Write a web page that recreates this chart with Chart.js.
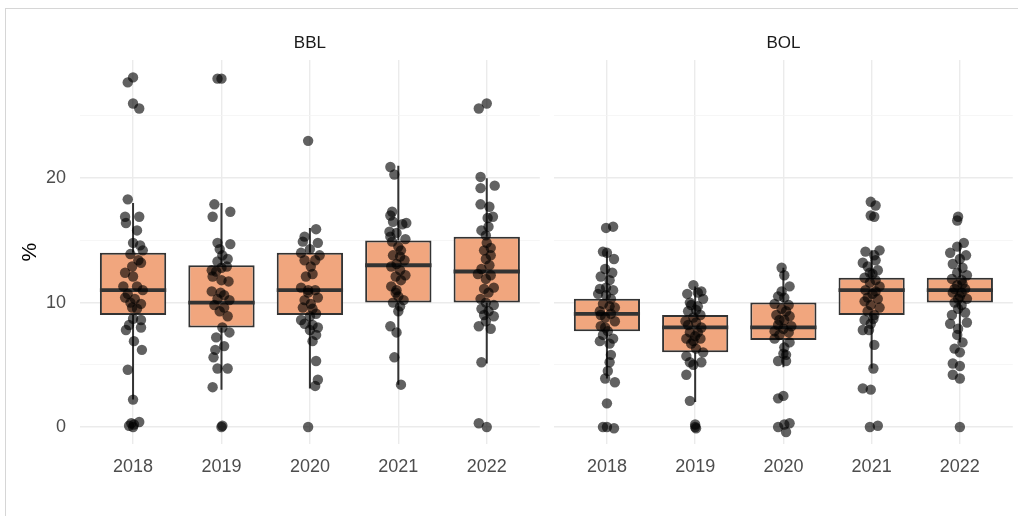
<!DOCTYPE html>
<html>
<head>
<meta charset="utf-8">
<script src="https://cdn.jsdelivr.net/npm/chart.js@4.4.1/dist/chart.umd.min.js"></script>
<style>
  body { margin: 0; background: #fff; }
  #wrap { position: relative; width: 1018px; height: 516px; overflow: hidden; }
  #frame { position: absolute; left: 5px; top: 8px; width: 1040px; height: 540px; border: 1px solid #d6d6d6; box-sizing: border-box; }
  canvas { position: absolute; top: 0; }
  #c1 { left: 0; }
  #c2 { left: 545px; }
</style>
</head>
<body>
<div id="wrap">
  <div id="frame"></div>
  <canvas id="c1" width="545" height="516"></canvas>
  <canvas id="c2" width="473" height="516"></canvas>
</div>
<script>
// categories and facets
const years = ['2018', '2019', '2020', '2021', '2022'];
const panels = ['BBL', 'BOL'];
const yTicks = [0, 5, 10, 15, 20, 25];

// box stats
const bblQ1 = [9, 8, 9, 10, 10];
const bblMed = [11, 10, 11, 13, 12.5];
const bblQ3 = [14, 13, 14, 15, 15.3];
const bblLo = [2.2, 3.0, 3.1, 3.4, 5.1];
const bblHi = [18.0, 18.0, 16.0, 21.0, 20.0];

const bolQ1 = [7.7, 6, 7, 9, 10];
const bolMed = [9.1, 8, 8, 11, 11];
const bolQ3 = [10.3, 9, 10, 12, 12];
const bolLo = [3.9, 2.0, 4.8, 4.7, 6.8];
const bolHi = [14.1, 11.3, 12.8, 14.2, 14.8];

// jittered points: [offset from category (category units), %]
const bbl2018 = [[0,28.1],[-0.06,27.7],[0,26.0],[0.07,25.6],[-0.06,18.3],[-0.09,16.9],[0.07,16.9],[-0.08,16.4],[0.045,15.8],[0,14.8],[0.08,14.6],[0.11,14.2],[-0.03,13.9],[0.06,13.4],[0.09,13.2],[-0.01,12.9],[-0.09,12.4],[0,12.1],[-0.11,11.3],[0.045,11.3],[0.11,11.0],[-0.06,10.7],[-0.09,10.4],[0.02,10.3],[-0.03,10.0],[0.09,9.9],[-0.01,9.6],[0.045,9.5],[0,8.7],[0.09,8.6],[-0.045,8.2],[0.09,8.0],[-0.08,7.8],[0.01,6.9],[0.10,6.2],[-0.06,4.6],[0,2.2],[-0.02,0.3],[0.01,0.2],[0.07,0.4],[-0.045,0.1],[0,0.0]];
const bbl2019 = [[-0.045,28.0],[0,28.0],[-0.08,17.9],[0.10,17.3],[-0.10,16.9],[-0.045,14.8],[0.10,14.7],[-0.02,14.3],[0.01,13.8],[0.07,13.5],[-0.045,13.3],[0.06,12.9],[0,12.8],[-0.06,12.5],[-0.11,12.6],[-0.10,12.1],[0.08,11.7],[0,11.8],[-0.11,10.9],[-0.01,10.8],[0.03,10.6],[-0.045,10.3],[0.09,10.2],[-0.08,9.8],[0.03,9.6],[-0.02,9.3],[0.07,8.9],[0.01,8.0],[0.09,7.6],[-0.06,7.2],[0.03,6.5],[-0.07,6.2],[-0.09,5.6],[-0.045,4.7],[0.07,4.7],[-0.10,3.2],[0,0.0],[0.01,0.1]];
const bbl2020 = [[-0.02,23.0],[0.07,15.9],[-0.06,15.3],[0.09,14.8],[-0.08,14.9],[0,14.3],[-0.10,14.0],[0.11,13.8],[0.06,13.4],[-0.06,13.4],[0.01,12.9],[-0.045,12.1],[0.03,12.3],[-0.10,11.2],[-0.02,11.0],[0.06,11.0],[-0.02,10.8],[0.09,10.4],[-0.06,10.2],[0.01,9.9],[-0.08,9.6],[0.03,9.5],[0.07,9.1],[0,8.9],[-0.10,8.6],[-0.06,8.3],[0.03,8.2],[0.09,8.0],[0,7.8],[0.07,7.4],[0.03,6.9],[0.07,5.3],[0.09,3.8],[0.06,3.3],[-0.02,0.0]];
const bbl2021 = [[-0.09,20.9],[-0.045,20.3],[-0.07,17.3],[-0.09,17.0],[-0.06,16.5],[0.09,16.4],[0.045,16.3],[-0.10,15.7],[-0.09,15.3],[-0.02,15.6],[0.08,15.1],[-0.07,14.9],[0,14.5],[0.03,14.2],[-0.06,13.8],[0.02,13.7],[0.07,13.4],[-0.02,13.1],[-0.08,12.9],[0.02,12.6],[0.08,12.2],[-0.03,12.1],[0.03,11.8],[-0.08,11.3],[-0.02,11.0],[-0.03,10.8],[0,10.5],[0.06,10.2],[-0.06,10.0],[0.02,9.7],[0,9.3],[-0.09,8.1],[-0.02,7.6],[-0.045,5.6],[0.03,3.4]];
const bbl2022 = [[-0.09,25.6],[0,26.0],[-0.07,20.1],[-0.07,19.2],[0.09,19.4],[-0.07,17.9],[0.03,17.7],[0.07,16.9],[0.01,16.8],[-0.06,15.8],[0.02,16.1],[-0.01,15.4],[0,14.8],[-0.03,14.2],[0.045,14.4],[0.045,13.8],[-0.01,13.5],[0.03,13.0],[-0.06,12.7],[-0.10,12.3],[0.045,12.2],[-0.01,11.9],[0.08,11.2],[-0.03,11.1],[0.02,10.8],[-0.07,10.3],[-0.01,10.0],[0.08,9.8],[-0.06,9.5],[0.02,9.3],[-0.03,9.0],[0.08,8.9],[-0.01,8.5],[-0.09,8.1],[0.045,7.9],[-0.06,5.2],[-0.09,0.3],[0,0.0]];

const bol2018 = [[0.07,16.1],[-0.01,16.0],[-0.045,14.1],[0,14.0],[0.08,13.5],[-0.02,12.7],[0.06,12.4],[-0.07,12.1],[0.03,11.8],[-0.01,11.2],[-0.08,11.1],[0.07,11.0],[-0.10,10.7],[-0.01,10.6],[0.045,10.3],[-0.045,9.9],[0.03,9.7],[0.09,9.6],[-0.08,9.3],[0.045,9.1],[-0.07,9.0],[-0.02,8.8],[0.09,8.5],[-0.07,8.1],[-0.02,8.0],[0.01,7.7],[-0.045,7.4],[0.07,7.1],[-0.08,6.9],[0.03,6.7],[0.045,5.8],[0.03,5.2],[0.01,4.5],[-0.02,3.9],[0.09,3.6],[0,1.9],[-0.045,0.0],[0,0.0],[0.08,-0.1]];
const bol2019 = [[-0.02,11.4],[0.07,10.9],[0.03,10.8],[-0.09,10.7],[0.09,10.3],[-0.06,10.0],[-0.045,9.8],[0.03,9.7],[0.01,9.4],[-0.08,9.3],[0.06,9.0],[-0.02,8.8],[-0.11,8.5],[0.01,8.4],[-0.08,8.2],[0.07,8.0],[-0.06,7.6],[0.03,7.6],[0,7.3],[-0.10,7.1],[0.06,7.1],[-0.02,6.9],[-0.045,6.7],[0.01,6.3],[0.09,6.0],[-0.10,5.7],[-0.06,5.2],[0.07,5.2],[-0.02,5.0],[-0.10,4.2],[-0.06,2.1],[0,0.2],[0.01,-0.1],[0,0.0]];
const bol2020 = [[-0.02,12.8],[0.01,12.2],[0.07,11.3],[-0.02,10.9],[-0.06,10.5],[0.01,10.4],[-0.10,9.9],[0.06,9.8],[-0.02,9.5],[0.03,9.3],[-0.08,9.0],[0.07,8.9],[0.01,8.6],[-0.045,8.6],[-0.06,8.2],[0.09,8.1],[0,7.9],[-0.10,7.7],[0.06,7.6],[-0.045,7.4],[-0.10,7.1],[0.07,6.8],[0.01,6.4],[0,5.9],[0.03,5.8],[-0.06,5.3],[0.03,5.3],[-0.06,2.3],[0,2.5],[-0.06,0.0],[0.01,0.2],[0.07,0.3],[0.03,-0.4]];
const bol2021 = [[-0.01,18.1],[0.045,17.8],[-0.01,17.0],[0.03,16.9],[-0.07,14.1],[0.09,14.2],[0.03,13.8],[0.045,13.4],[-0.10,13.2],[-0.045,12.9],[0.07,12.6],[-0.02,12.4],[0.01,12.3],[-0.08,12.0],[0.045,11.8],[-0.02,11.6],[0.09,11.3],[-0.07,11.0],[0.045,10.9],[0.01,10.7],[-0.045,10.4],[0.07,10.3],[-0.08,10.1],[-0.01,9.8],[0.09,9.6],[-0.045,9.3],[0.03,9.0],[0.02,8.7],[-0.08,8.6],[-0.01,8.3],[-0.10,7.8],[-0.03,7.8],[0.03,6.6],[0.02,4.7],[-0.10,3.1],[-0.01,3.0],[-0.02,0.0],[0.07,0.1]];
const bol2022 = [[-0.03,16.6],[-0.02,16.9],[0.045,14.8],[-0.03,14.5],[-0.11,14.0],[0.07,13.8],[0,13.5],[-0.08,13.1],[0.03,12.8],[-0.03,12.4],[0.08,12.2],[-0.09,11.9],[0.02,11.8],[0.03,11.5],[-0.03,11.4],[0.06,11.1],[-0.06,11.1],[-0.08,10.8],[0.02,10.8],[0,10.5],[0.08,10.3],[-0.02,10.3],[-0.06,10.0],[0.02,9.8],[-0.02,9.5],[0.06,9.2],[-0.09,9.0],[0.08,8.4],[-0.11,8.3],[-0.02,7.9],[-0.03,7.4],[0.03,6.8],[-0.06,6.3],[0,6.0],[-0.08,5.1],[0,4.9],[-0.08,4.2],[0,3.9],[0,0.0]];

const FONT = '"Liberation Sans", Arial, sans-serif';
const BOX_FILL = '#f1a67e';
const BOX_LINE = '#333333';

// whiskers under each box, median on top of it
const boxPlugin = {
  id: 'boxParts',
  beforeDatasetDraw(chart, args) {
    if (args.meta.type !== 'bar') return;
    const st = chart.options.plugins.boxParts;
    const { x, y } = chart.scales;
    const ctx = chart.ctx;
    ctx.save();
    ctx.strokeStyle = BOX_LINE;
    ctx.lineWidth = 2;
    st.lo.forEach((lo, i) => {
      const px = x.getPixelForValue(i + 1);
      ctx.beginPath();
      ctx.moveTo(px, y.getPixelForValue(lo));
      ctx.lineTo(px, y.getPixelForValue(st.q1[i]));
      ctx.moveTo(px, y.getPixelForValue(st.q3[i]));
      ctx.lineTo(px, y.getPixelForValue(st.hi[i]));
      ctx.stroke();
    });
    ctx.restore();
  },
  afterDatasetDraw(chart, args) {
    if (args.meta.type !== 'bar') return;
    const st = chart.options.plugins.boxParts;
    const y = chart.scales.y;
    const ctx = chart.ctx;
    ctx.save();
    ctx.strokeStyle = BOX_LINE;
    ctx.lineWidth = 3.8;
    args.meta.data.forEach((bar, i) => {
      const { x: bx, width } = bar.getProps(['x', 'width'], true);
      const py = y.getPixelForValue(st.med[i]);
      ctx.beginPath();
      ctx.moveTo(bx - width / 2, py);
      ctx.lineTo(bx + width / 2, py);
      ctx.stroke();
    });
    ctx.restore();
  }
};

function makePanel(canvasId, name, q1, med, q3, lo, hi, groups, showY) {
  const points = [];
  groups.forEach((g, i) => g.forEach(p => points.push({ x: i + 1 + p[0], y: p[1] })));

  return new Chart(document.getElementById(canvasId), {
    data: {
      datasets: [
        {
          type: 'scatter',
          data: points,
          order: 0,
          pointRadius: 5.2,
          pointHoverRadius: 5.2,
          backgroundColor: 'rgba(0,0,0,0.62)',
          borderWidth: 0
        },
        {
          type: 'bar',
          data: years.map((yr, i) => ({ x: i + 1, y: [q1[i], q3[i]] })),
          order: 1,
          backgroundColor: BOX_FILL,
          borderColor: BOX_LINE,
          borderWidth: 2,
          borderSkipped: false,
          categoryPercentage: 1,
          barPercentage: 0.75
        }
      ]
    },
    options: {
      responsive: false,
      animation: false,
      events: [],
      layout: { padding: showY ? { top: 3.6, left: 0, right: 4, bottom: 0 } : { top: 3.6, left: 9, right: 3, bottom: 0 } },
      plugins: {
        legend: { display: false },
        tooltip: { enabled: false },
        title: {
          display: true,
          text: name,
          fullSize: false,
          color: '#1a1a1a',
          font: { family: FONT, size: 17, weight: 'normal' },
          padding: { top: 30, bottom: 6 }
        },
        boxParts: { q1, med, q3, lo, hi }
      },
      scales: {
        x: {
          type: 'linear',
          min: 0.4,
          max: 5.6,
          offset: false,
          afterBuildTicks: axis => { axis.ticks = years.map((yr, i) => ({ value: i + 1 })); },
          afterFit: axis => { axis.height = 71.6; },
          border: { display: false },
          grid: { color: '#ebebeb', lineWidth: 1.4, drawTicks: false, offset: false },
          ticks: {
            color: '#4d4d4d',
            font: { family: FONT, size: 18 },
            padding: 12,
            maxRotation: 0,
            callback: v => years[Math.round(v) - 1]
          }
        },
        y: {
          min: -1.4,
          max: 29.5,
          afterBuildTicks: axis => { axis.ticks = yTicks.map(v => ({ value: v })); },
          afterFit: axis => { axis.width = showY ? 80 : 0; },
          border: { display: false },
          grid: {
            drawTicks: false,
            color: c => (c.tick && c.tick.value % 10 === 0 ? '#ebebeb' : '#f4f4f4'),
            lineWidth: c => (c.tick && c.tick.value % 10 === 0 ? 1.4 : 0.8)
          },
          ticks: {
            display: showY,
            color: '#4d4d4d',
            font: { family: FONT, size: 18 },
            padding: 14,
            callback: v => (v % 10 === 0 ? v : '')
          },
          title: {
            display: showY,
            text: '%',
            color: '#000000',
            font: { family: FONT, size: 21 },
            padding: { top: 18, bottom: 0 }
          }
        }
      }
    },
    plugins: [boxPlugin]
  });
}

makePanel('c1', panels[0], bblQ1, bblMed, bblQ3, bblLo, bblHi,
  [bbl2018, bbl2019, bbl2020, bbl2021, bbl2022], true);
makePanel('c2', panels[1], bolQ1, bolMed, bolQ3, bolLo, bolHi,
  [bol2018, bol2019, bol2020, bol2021, bol2022], false);
</script>
</body>
</html>
